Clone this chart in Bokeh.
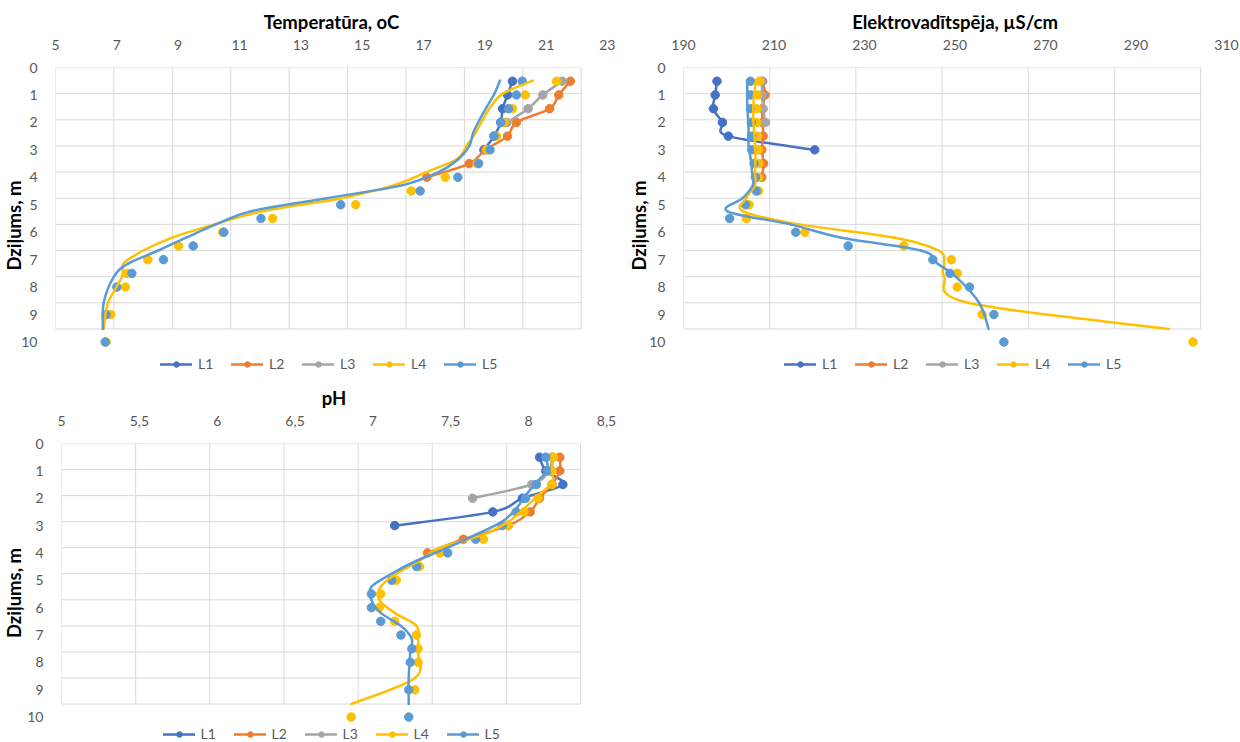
import numpy as np
from bokeh.plotting import figure
from bokeh.models import Range1d, FixedTicker, CustomJSTickFormatter, Legend, LegendItem
from bokeh.layouts import row, column
from bokeh.embed import file_html
from bokeh.resources import INLINE

# ---------------- data ----------------
series_names = ["L1", "L2", "L3", "L4", "L5"]
colors = ["#4472C4", "#ED7D31", "#A5A5A5", "#FFC000", "#5B9BD5"]

depth = [0.5, 1, 1.5, 2, 2.5, 3, 3.5, 4, 4.5, 5, 5.5, 6, 6.5, 7, 7.5, 8, 9, 10]
depth_L1 = [0.5, 1, 1.5, 2, 2.5, 3]
depth_L2 = [0.5, 1, 1.5, 2, 2.5, 3, 3.5, 4]
depth_L3 = [0.5, 1, 1.5, 2]
depth_ticks = [0, 1, 2, 3, 4, 5, 6, 7, 8, 9, 10]

# Temperatūra, oC
temp_L1 = [19.90, 19.74, 19.58, 19.52, 19.30, 18.97]
temp_L2 = [21.79, 21.41, 21.11, 20.03, 19.74, 19.02, 18.49, 17.11]
temp_L3 = [21.52, 20.89, 20.41, 19.72]
temp_L4 = [21.34, 20.32, 19.90, 19.63, 19.38, 19.07, 18.75, 17.71, 16.60, 14.79,
           12.08, 10.45, 9.01, 8.01, 7.33, 7.28, 6.80, 6.65]
temp_L5 = [20.22, 20.03, 19.77, 19.52, 19.30, 19.17, 18.80, 18.12, 16.89, 14.30,
           11.70, 10.49, 9.49, 8.52, 7.49, 7.00, 6.65, 6.62]
temp_ticks = [5, 7, 9, 11, 13, 15, 17, 19, 21, 23]

# Elektrovadītspēja, µS/cm
ec_L1 = [197.4, 197.0, 196.6, 198.6, 199.9, 219.0]
ec_L2 = [207.5, 208.0, 207.4, 207.5, 207.6, 207.3, 207.7, 207.3]
ec_L3 = [207.3, 207.4, 207.6, 208.1]
ec_L4 = [206.8, 206.4, 206.2, 206.2, 206.4, 206.6, 206.7, 206.6, 206.6, 204.5,
         203.9, 216.8, 238.7, 249.2, 250.5, 250.5, 256.0, 302.6]
ec_L5 = [204.8, 204.8, 204.8, 205.0, 205.1, 205.1, 205.6, 205.9, 206.1, 203.7,
         200.2, 214.8, 226.4, 245.1, 248.9, 253.2, 258.6, 260.8]
ec_ticks = [190, 210, 230, 250, 270, 290, 310]

# pH
ph_L1 = [8.07, 8.11, 8.22, 7.96, 7.77, 7.14]
ph_L2 = [8.20, 8.20, 8.15, 8.07, 8.01, 7.87, 7.58, 7.35]
ph_L3 = [8.15, 8.13, 8.02, 7.64]
ph_L4 = [8.16, 8.15, 8.15, 8.06, 7.97, 7.87, 7.71, 7.43, 7.30, 7.15,
         7.05, 7.04, 7.14, 7.28, 7.29, 7.29, 7.27, 6.86]
ph_L5 = [8.11, 8.12, 8.05, 7.98, 7.92, 7.83, 7.66, 7.48, 7.28, 7.12,
         6.99, 6.99, 7.05, 7.18, 7.25, 7.24, 7.23, 7.23]
ph_ticks = [5, 5.5, 6, 6.5, 7, 7.5, 8, 8.5]

# ---------------- style ----------------
FONT = "Lato"
PPU_Y = 27.45      # px per depth unit on the label scale
K = 1.05           # ratio label scale / secondary (grid) scale
GRID = "#D9D9D9"


def smooth_parts(xs, ys):
    xs = np.asarray(xs, float)
    ys = np.asarray(ys, float)
    n = len(xs)
    xp = np.concatenate([[xs[0]], xs, [xs[-1]]])
    yp = np.concatenate([[ys[0]], ys, [ys[-1]]])
    i = np.arange(n - 1)
    return dict(x0=xs[i], y0=ys[i], x1=xs[i + 1], y1=ys[i + 1],
                cx0=xs[i] + (xp[i + 2] - xp[i]) / 6, cy0=ys[i] + (yp[i + 2] - yp[i]) / 6,
                cx1=xs[i + 1] - (xp[i + 3] - xp[i + 1]) / 6, cy1=ys[i + 1] - (yp[i + 3] - yp[i + 1]) / 6)


def make_panel(title, xticks, values, width, height, bl, bt, frame_w, lines_grid_x,
               ytitle_standoff, leg_loc, leg_margin):
    frame_h = height - bt
    x0, x1 = xticks[0], xticks[-1]
    ymax = frame_h / PPU_Y
    p = figure(width=width, height=height, x_range=Range1d(x0, x1), y_range=Range1d(ymax, 0),
               x_axis_location="above", output_backend="svg", toolbar_location=None,
               min_border_left=bl, min_border_right=width - bl - frame_w,
               min_border_top=bt, min_border_bottom=0)
    p.extra_x_ranges = {"g": Range1d(x0, x0 + (x1 - x0) * K)}
    p.extra_y_ranges = {"g": Range1d(ymax * K, 0)}
    p.grid.visible = False
    p.outline_line_color = None
    p.background_fill_color = "white"
    p.border_fill_color = "white"

    # gridlines (secondary scale)
    p.segment(x0=xticks, y0=[depth_ticks[0]] * len(xticks), x1=xticks, y1=[depth_ticks[-1]] * len(xticks),
              x_range_name="g", y_range_name="g", line_color=GRID, line_width=1)
    p.segment(x0=[x0] * len(depth_ticks), y0=depth_ticks, x1=[x1] * len(depth_ticks), y1=depth_ticks,
              x_range_name="g", y_range_name="g", line_color=GRID, line_width=1)

    depths = [depth_L1, depth_L2, depth_L3, depth, depth]
    lines = {}
    scat = {}
    for k in range(5):
        c = colors[k]
        if k < 3:
            lines[k] = p.bezier(line_color=c, line_width=2.5, line_cap="round",
                                **smooth_parts(values[k], depths[k]))
        scat[k] = p.scatter(values[k], depths[k], size=8.5, marker="circle", fill_color=c, line_color=c)
    for k in (3, 4):
        lines[k] = p.bezier(line_color=colors[k], line_width=2.5, line_cap="round",
                            x_range_name="g" if lines_grid_x else "default", y_range_name="g",
                            **smooth_parts(values[k], depths[k]))
    items = [LegendItem(label=series_names[k], renderers=[lines[k], scat[k]]) for k in range(5)]

    # axes
    p.xaxis.ticker = FixedTicker(ticks=xticks)
    p.yaxis.ticker = FixedTicker(ticks=depth_ticks)
    p.xaxis.formatter = CustomJSTickFormatter(code="return String(tick).replace('.', ',')")
    p.axis.axis_line_color = None
    p.axis.major_tick_line_color = None
    p.axis.minor_tick_line_color = None
    p.axis.major_label_text_font = FONT
    p.axis.major_label_text_font_size = "14px"
    p.axis.major_label_text_color = "#595959"
    p.axis.major_label_standoff = 12
    p.axis.axis_label_text_font = FONT
    p.axis.axis_label_text_font_style = "bold"
    p.axis.axis_label_text_font_size = "18.5px"
    p.axis.axis_label_text_color = "black"
    p.xaxis.axis_label = title
    p.xaxis.axis_label_standoff = 4
    p.yaxis.axis_label = "Dziļums, m"
    p.yaxis.axis_label_standoff = ytitle_standoff

    leg = Legend(items=items, location=leg_loc, orientation="horizontal",
                 border_line_color=None, background_fill_alpha=0,
                 label_text_font=FONT, label_text_font_size="14px", label_text_color="#595959",
                 glyph_width=32, glyph_height=14, label_height=14, label_standoff=6,
                 spacing=13, padding=0, margin=leg_margin)
    p.add_layout(leg)
    return p


p1 = make_panel("Temperatūra, oC", temp_ticks, [temp_L1, temp_L2, temp_L3, temp_L4, temp_L5],
                615, 383, 52, 67, 555, True, -7, "bottom_center", 11)
p2 = make_panel("Elektrovadītspēja, µS/cm", ec_ticks, [ec_L1, ec_L2, ec_L3, ec_L4, ec_L5],
                625, 383, 68, 67, 543, True, -4, (101, 11), 0)
p3 = make_panel("pH", ph_ticks, [ph_L1, ph_L2, ph_L3, ph_L4, ph_L5],
                628, 359, 57, 59, 549, False, -1, "bottom_center", 0)

layout = column(row(p1, p2), p3)
open("out.html", "w").write(file_html(layout, INLINE))
